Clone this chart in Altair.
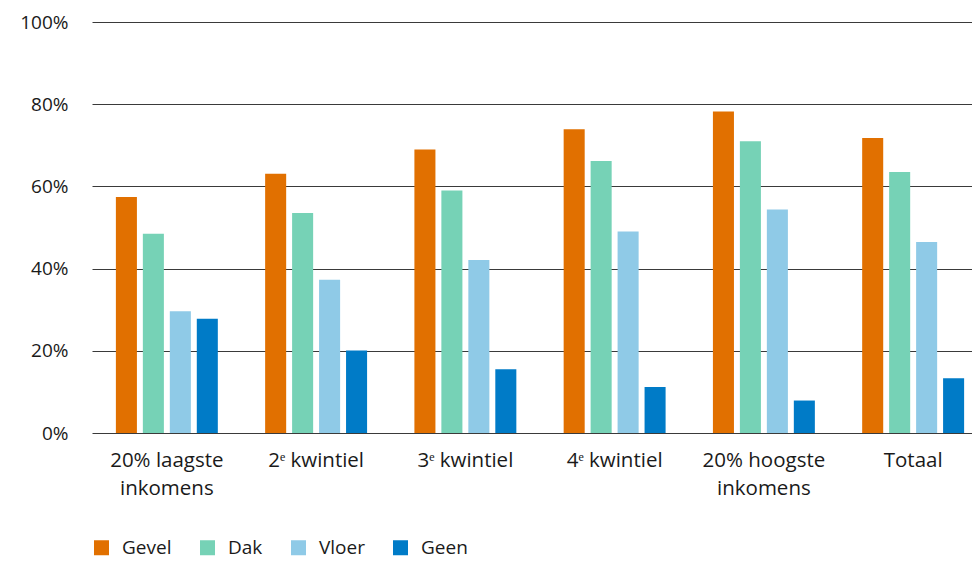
import altair as alt
import pandas as pd

categories = ["20% laagste|inkomens", "2ᵉ kwintiel", "3ᵉ kwintiel", "4ᵉ kwintiel", "20% hoogste|inkomens", "Totaal"]
series = ["Gevel", "Dak", "Vloer", "Geen"]
gevel = [57.4, 63.1, 69.0, 73.9, 78.2, 71.8]
dak = [48.5, 53.5, 59.0, 66.2, 71.0, 63.5]
vloer = [29.6, 37.3, 42.1, 49.0, 54.4, 46.5]
geen = [27.8, 20.1, 15.5, 11.2, 7.9, 13.3]
colors = ["#E17000", "#76D2B6", "#8FCAE7", "#007BC7"]
y_ticks = [0, 20, 40, 60, 80, 100]

rows = []
for s, vals in zip(series, [gevel, dak, vloer, geen]):
    for c, v in zip(categories, vals):
        rows.append({"cat": c, "series": s, "value": v})
df = pd.DataFrame(rows)

FONT = "Open Sans"
TXT = "#1a1a1a"

chart = alt.Chart(df).mark_bar().encode(
    x=alt.X("cat:N", sort=categories, title=None,
            scale=alt.Scale(paddingInner=0.317, paddingOuter=0.16, range=[0, 896]),
            axis=alt.Axis(labelExpr="split(datum.label, '|')", labelAngle=0,
                          domain=False, ticks=False, labelPadding=17,
                          labelFontSize=20.5, labelLineHeight=28, labelFont=FONT,
                          labelColor=TXT, labelBaseline="top")),
    xOffset=alt.XOffset("series:N", sort=series,
                        scale=alt.Scale(paddingInner=0.22, paddingOuter=0)),
    y=alt.Y("value:Q", title=None,
            scale=alt.Scale(domain=[0, 100]),
            axis=alt.Axis(values=y_ticks, labelExpr="datum.value + '%'",
                          domain=False, ticks=False, labelPadding=24,
                          labelFontSize=19, labelFont=FONT, labelColor=TXT,
                          grid=True, gridColor="#3a3a3a", gridWidth=1, gridOpacity=1)),
    color=alt.Color("series:N", sort=series,
                    scale=alt.Scale(domain=series, range=colors),
                    legend=alt.Legend(title=None, orient="none", direction="horizontal",
                                      legendX=0, legendY=516, symbolType="square",
                                      symbolSize=225, symbolStrokeWidth=0,
                                      labelFontSize=19, labelFont=FONT,
                                      labelColor=TXT, labelOffset=11,
                                      columnPadding=26, padding=0)),
).properties(
    width=880, height=411,
    autosize=alt.AutoSizeParams(type="none"),
    padding={"left": 84, "top": 14, "right": 0, "bottom": 128},
).configure_view(stroke=None)

chart.save("out.html", embed_options={"renderer": "svg", "actions": False})
